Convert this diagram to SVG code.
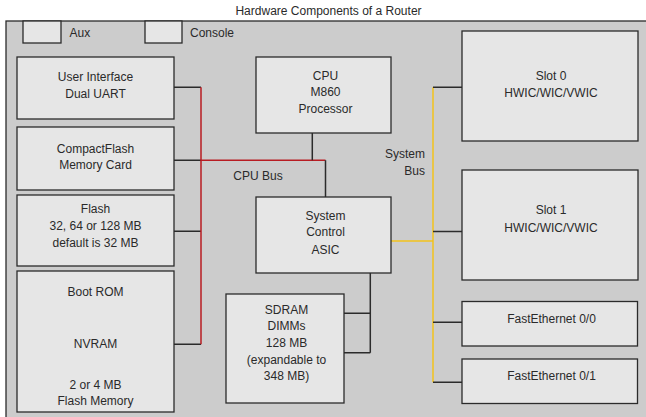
<svg xmlns="http://www.w3.org/2000/svg" width="646" height="417" viewBox="0 0 646 417">
<style>
text{font-family:"Liberation Sans",Arial,sans-serif;font-size:12px;fill:#2a2a2a}
.c{text-anchor:middle}
.e{text-anchor:end}
.box{fill:#e6e6e6;stroke:#2b2b2b;stroke-width:1.3}
.ln{fill:none;stroke:#2b2b2b;stroke-width:1.5}
.red{fill:none;stroke:#b81c22;stroke-width:1.5}
.yel{fill:none;stroke:#f2c21b;stroke-width:1.5}
</style>
<rect x="0" y="0" width="646" height="417" fill="#ffffff"/>
<text class="c" x="328.5" y="15">Hardware Components of a Router</text>
<g id="panel">
<rect x="6" y="21" width="660" height="420" fill="#cccccc" stroke="#2b2b2b" stroke-width="1.3"/>
</g>
<g id="aux">
<rect class="box" x="23" y="21" width="38" height="22"/>
<text x="69.5" y="36.5">Aux</text>
</g>
<g id="console">
<rect class="box" x="145" y="21" width="37" height="22"/>
<text x="190" y="36.5">Console</text>
</g>
<g id="connectors">
<path class="ln" d="M174 87.3H201M174 160.3H201M174 231.3H201M174 344.3H201"/>
<path class="red" d="M201 87.3V344.3M201 160.3H325.5"/>
<path class="ln" d="M312.3 133V160.3M325.5 160.3V197"/>
<path class="ln" d="M370.3 273V352.7M344 313.3H370.3M344 352.7H370.3"/>
<path class="yel" d="M433 87.3V382.3M391 241H433"/>
<path class="ln" d="M433 87.3H462M433 231.5H462M433 322.3H462M433 382.3H462"/>
<text x="233.3" y="179.5">CPU Bus</text>
<text class="e" x="425" y="158">System</text>
<text class="e" x="425" y="174.8">Bus</text>
</g>
<g id="ui">
<rect class="box" x="17" y="57" width="157" height="62"/>
<text class="c" x="95.5" y="81">User Interface</text>
<text class="c" x="95.5" y="97.6">Dual UART</text>
</g>
<g id="cf">
<rect class="box" x="17" y="127" width="157" height="63"/>
<text class="c" x="95.5" y="152.6">CompactFlash</text>
<text class="c" x="95.5" y="169.3">Memory Card</text>
</g>
<g id="flash">
<rect class="box" x="17" y="195" width="157" height="71"/>
<text class="c" x="95.5" y="212.5">Flash</text>
<text class="c" x="95.5" y="229.8">32, 64 or 128 MB</text>
<text class="c" x="95.5" y="246.8">default is 32 MB</text>
</g>
<g id="bootrom">
<rect class="box" x="17" y="271" width="157" height="141"/>
<text class="c" x="95.5" y="296">Boot ROM</text>
<text class="c" x="95.5" y="347.6">NVRAM</text>
<text class="c" x="95.5" y="388.5">2 or 4 MB</text>
<text class="c" x="95.5" y="405.2">Flash Memory</text>
</g>
<g id="cpu">
<rect class="box" x="256" y="57" width="135" height="76"/>
<text class="c" x="325.5" y="79.5">CPU</text>
<text class="c" x="325.5" y="96.3">M860</text>
<text class="c" x="325.5" y="113">Processor</text>
</g>
<g id="asic">
<rect class="box" x="256" y="197" width="135" height="76"/>
<text class="c" x="325.5" y="219.5">System</text>
<text class="c" x="325.5" y="236.3">Control</text>
<text class="c" x="325.5" y="253.5">ASIC</text>
</g>
<g id="sdram">
<rect class="box" x="226" y="294" width="118" height="109"/>
<text class="c" x="286.5" y="313.5">SDRAM</text>
<text class="c" x="286.5" y="330.2">DIMMs</text>
<text class="c" x="286.5" y="346.9">128 MB</text>
<text class="c" x="286.5" y="363.6">(expandable to</text>
<text class="c" x="286.5" y="380.3">348 MB)</text>
</g>
<g id="slot0">
<rect class="box" x="462" y="31" width="176" height="110"/>
<text class="c" x="551" y="80">Slot 0</text>
<text class="c" x="551" y="97">HWIC/WIC/VWIC</text>
</g>
<g id="slot1">
<rect class="box" x="462" y="170" width="176" height="110"/>
<text class="c" x="551" y="214.3">Slot 1</text>
<text class="c" x="551" y="231.5">HWIC/WIC/VWIC</text>
</g>
<g id="fe00">
<rect class="box" x="462" y="301.5" width="175.5" height="44.5"/>
<text class="c" x="551.5" y="323">FastEthernet 0/0</text>
</g>
<g id="fe01">
<rect class="box" x="462" y="359" width="175.5" height="44.5"/>
<text class="c" x="551.5" y="380">FastEthernet 0/1</text>
</g>
</svg>
